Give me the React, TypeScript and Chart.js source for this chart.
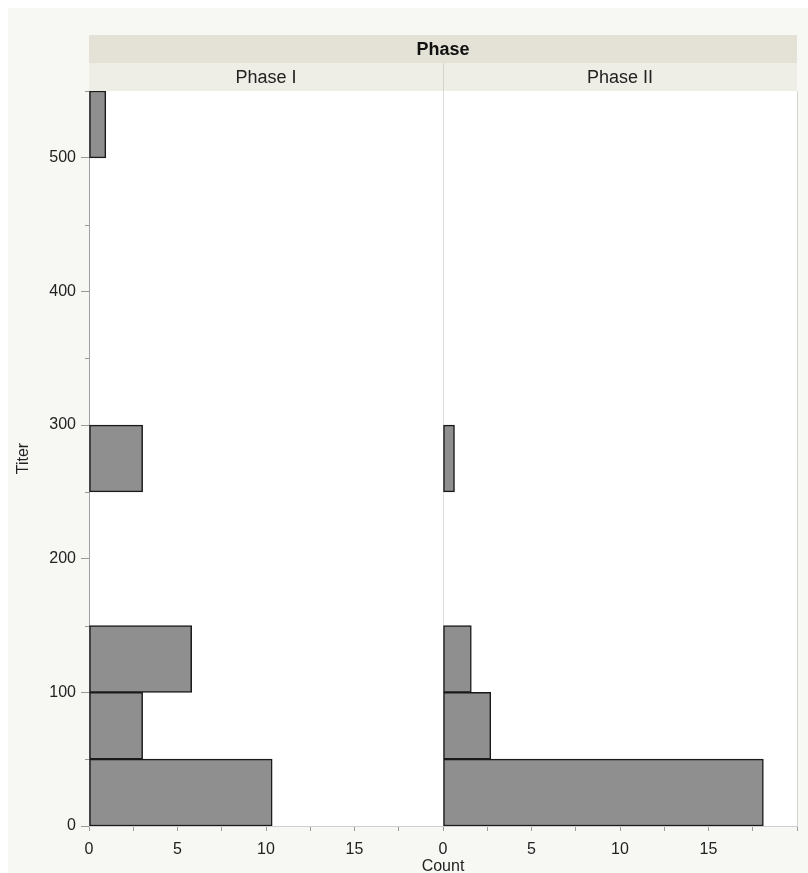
import React, { useEffect, useRef } from "react";
import { Chart, registerables } from "chart.js";

Chart.register(...registerables);

// ---- data ----
const binStarts = [0, 50, 100, 150, 200, 250, 300, 350, 400, 450, 500];
const binWidth = 50;
const phaseICounts = [10.35, 3.03, 5.8, 0, 0, 3.03, 0, 0, 0, 0, 0.95];
const phaseIICounts = [18.1, 2.7, 1.6, 0, 0, 0.65, 0, 0, 0, 0, 0];
const panelLabels = ["Phase I", "Phase II"];
const groupLabel = "Phase";
const yTitle = "Titer";
const xTitle = "Count";
const yMin = 0;
const yMax = 550;
const yMajorStep = 100;
const yMinorTicks = [50, 150, 250, 350, 450, 550];
const xMin = 0;
const xMax = 20;
const xStep = 2.5;
const xLabelStep = 5;

const FONT = "'Liberation Sans', Arial, Helvetica, sans-serif";

const toData = (counts: number[]) =>
  binStarts
    .map((s, i) => ({ y: s + binWidth / 2, x: counts[i] }))
    .filter((d) => d.x > 0);

const framePlugin = {
  id: "frame",
  beforeDraw(chart: any) {
    const { ctx, chartArea: ca, width, height } = chart;
    const x1 = chart.scales.x1;
    const x2 = chart.scales.x2;
    ctx.save();
    ctx.fillStyle = "#f7f7f4";
    ctx.fillRect(0, 0, width, height);
    ctx.fillStyle = "#ffffff";
    ctx.fillRect(ca.left, ca.top, ca.right - ca.left, ca.bottom - ca.top);
    const bandH = 28;
    ctx.fillStyle = "#e4e2d7";
    ctx.fillRect(ca.left, ca.top - 2 * bandH, ca.right - ca.left, bandH);
    ctx.fillStyle = "#eeede6";
    ctx.fillRect(ca.left, ca.top - bandH, ca.right - ca.left, bandH);
    // divider in panel header
    ctx.strokeStyle = "#d6d5cc";
    ctx.lineWidth = 1;
    ctx.beginPath();
    ctx.moveTo(Math.round(x2.left) + 0.5, ca.top - bandH);
    ctx.lineTo(Math.round(x2.left) + 0.5, ca.top);
    ctx.stroke();
    ctx.textAlign = "center";
    ctx.textBaseline = "middle";
    ctx.fillStyle = "#111";
    ctx.font = `bold 18px ${FONT}`;
    ctx.fillText(groupLabel, (ca.left + ca.right) / 2, ca.top - bandH * 1.5 + 1);
    ctx.font = `18px ${FONT}`;
    ctx.fillStyle = "#222";
    ctx.fillText(panelLabels[0], (x1.left + x1.right) / 2, ca.top - bandH / 2 + 1);
    ctx.fillText(panelLabels[1], (x2.left + x2.right) / 2, ca.top - bandH / 2 + 1);
    ctx.restore();
  },
  afterDraw(chart: any) {
    const { ctx, chartArea: ca, height } = chart;
    const y = chart.scales.y;
    const x2 = chart.scales.x2;
    ctx.save();
    ctx.strokeStyle = "#999";
    ctx.lineWidth = 1;
    yMinorTicks.forEach((v) => {
      const py = Math.round(y.getPixelForValue(v)) + 0.5;
      ctx.beginPath();
      ctx.moveTo(ca.left - 4, py);
      ctx.lineTo(ca.left, py);
      ctx.stroke();
    });
    ctx.fillStyle = "#222";
    ctx.font = `16px ${FONT}`;
    ctx.textAlign = "center";
    ctx.textBaseline = "middle";
    ctx.fillText(xTitle, x2.left, height - 6);
    ctx.restore();
  },
};

const barStyle = {
  backgroundColor: "#8f8f8f",
  borderColor: "#1a1a1a",
  borderWidth: 1.5,
  borderSkipped: false as const,
};

const xTickCallback = (v: any) => {
  const n = Number(v);
  return n % xLabelStep === 0 && n < xMax ? String(n) : "";
};

const makeX = (isSecond: boolean) => ({
  type: "linear" as const,
  position: "bottom" as const,
  stack: "x",
  stackWeight: 1,
  min: xMin,
  max: xMax,
  offset: false,
  afterFit: (s: any) => {
    s.height = 47;
  },
  border: { display: true, color: "#cfcfcf", width: 1 },
  grid: {
    offset: false,
    drawOnChartArea: isSecond,
    drawTicks: true,
    tickLength: 5,
    tickColor: "#9a9a9a",
    color: (c: any) => {
      if (!c.tick) return "rgba(0,0,0,0)";
      if (c.tick.value === xMin) return "#dcdcdc";
      if (c.tick.value === xMax) return "#d4d4d4";
      return "rgba(0,0,0,0)";
    },
  },
  ticks: {
    stepSize: xStep,
    autoSkip: false,
    maxRotation: 0,
    padding: 9,
    color: "#222",
    font: { family: FONT, size: 16 },
    callback: xTickCallback,
  },
});

export default function App() {
  const ref = useRef<HTMLCanvasElement | null>(null);
  useEffect(() => {
    if (!ref.current) return;
    const chart = new Chart(ref.current, {
      type: "bar",
      data: {
        datasets: [
          { label: panelLabels[0], data: toData(phaseICounts), xAxisID: "x1", yAxisID: "y", ...barStyle } as any,
          { label: panelLabels[1], data: toData(phaseIICounts), xAxisID: "x2", yAxisID: "y", ...barStyle } as any,
        ],
      },
      options: {
        indexAxis: "y",
        animation: false,
        responsive: false,
        maintainAspectRatio: false,
        datasets: { bar: { grouped: false, barPercentage: 1, categoryPercentage: 1 } } as any,
        plugins: { legend: { display: false }, tooltip: { enabled: false } },
        layout: { padding: { top: 83, right: 11, left: 0, bottom: 0 } },
        scales: {
          y: {
            type: "linear",
            position: "left",
            min: yMin,
            max: yMax,
            offset: false,
            afterFit: (s: any) => {
              s.width = 81;
            },
            border: { display: true, color: "#a0a0a0", width: 1 },
            grid: {
              offset: false,
              drawOnChartArea: false,
              drawTicks: true,
              tickLength: 8,
              tickColor: (c: any) =>
                c.tick && c.tick.value % yMajorStep === 0 ? "#9a9a9a" : "rgba(0,0,0,0)",
            },
            ticks: {
              stepSize: yMajorStep,
              padding: 5,
              color: "#222",
              font: { family: FONT, size: 16 },
              callback: (v: any) => (Number(v) % yMajorStep === 0 ? String(v) : ""),
            },
            title: {
              display: true,
              text: yTitle,
              color: "#222",
              font: { family: FONT, size: 16 },
              padding: { top: 6, bottom: 0 },
            },
          } as any,
          x1: makeX(false) as any,
          x2: makeX(true) as any,
        },
      },
      plugins: [framePlugin],
    });
    return () => chart.destroy();
  }, []);
  return (
    <div style={{ position: "fixed", left: 8, top: 8, width: 800, height: 865 }}>
      <canvas ref={ref} width={800} height={865} style={{ display: "block" }} />
    </div>
  );
}
